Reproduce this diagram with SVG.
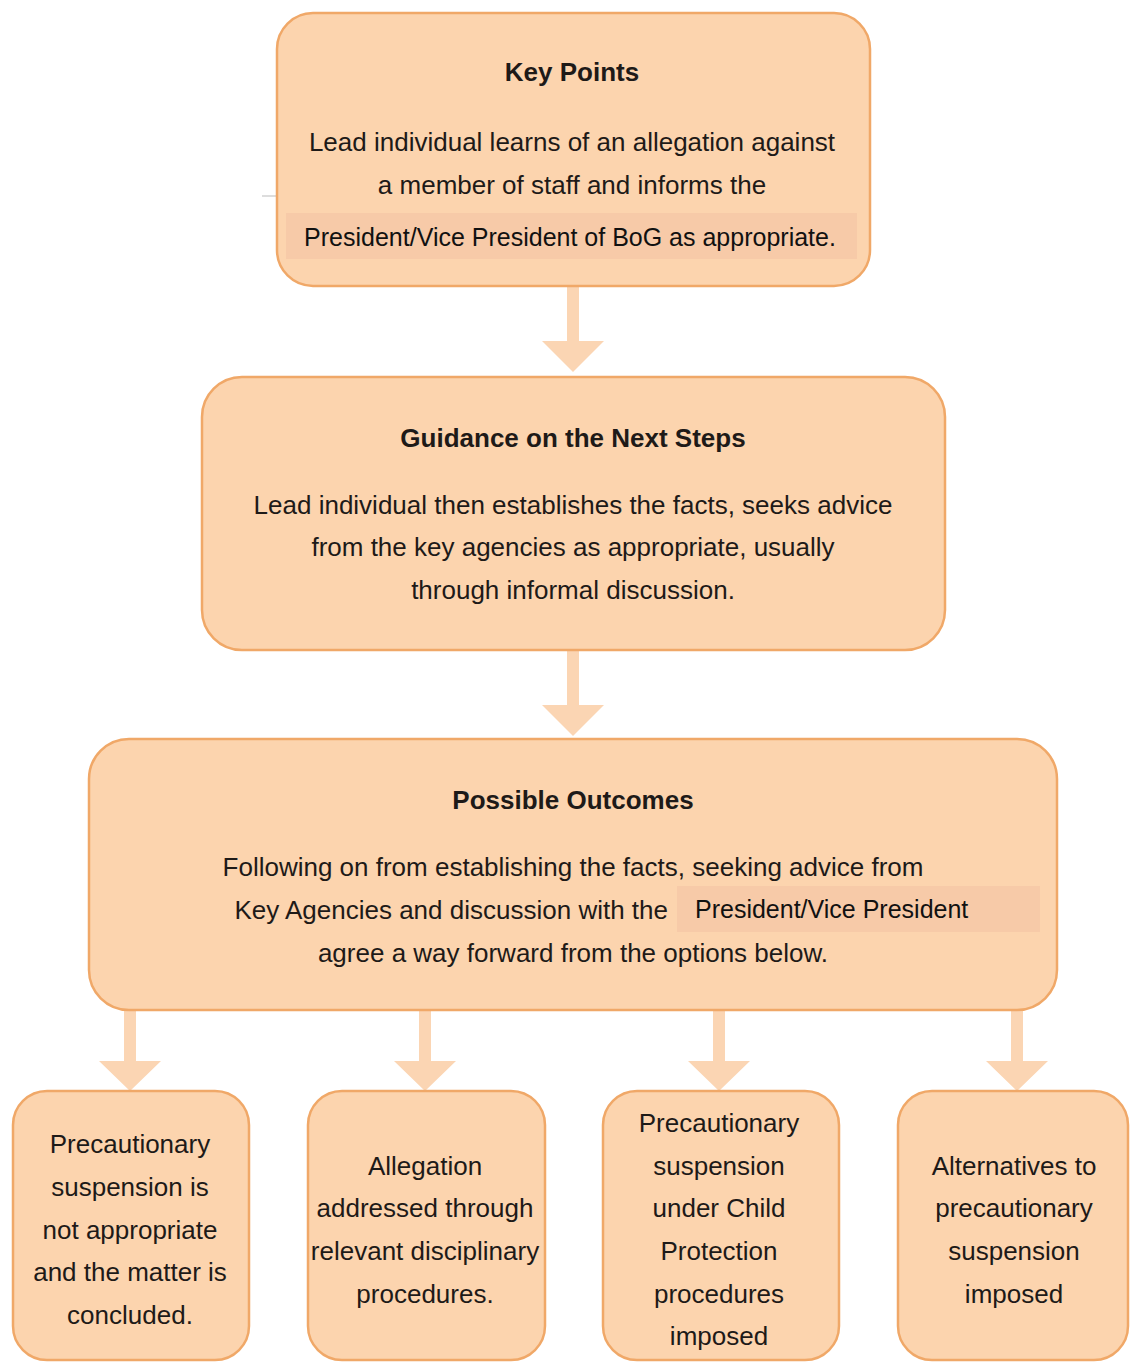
<svg xmlns="http://www.w3.org/2000/svg" width="1130" height="1362" viewBox="0 0 1130 1362">
<style>
.box{fill:#fcd4ae;stroke:#f0a868;stroke-width:2.5}
.hl{fill:#f7caa8}
.t{font-family:"Liberation Sans",Arial,sans-serif;font-size:26px;fill:#1e1a18;text-anchor:middle}
.b{font-weight:bold}
.p{font-family:"Liberation Sans",Arial,sans-serif;font-size:25px;fill:#111}
.arr{fill:#fbd5b3}
</style>
<rect width="1130" height="1362" fill="#ffffff"/>
<g id="connectors">
<path class="arr" d="M567 287h12v54h25l-31 31l-31-31h25z"/>
<path class="arr" d="M567 651h12v54h25l-31 31l-31-31h25z"/>
<path class="arr" d="M124 1011h12v50h25l-31 30l-31-30h25z"/>
<path class="arr" d="M419 1011h12v50h25l-31 30l-31-30h25z"/>
<path class="arr" d="M713 1011h12v50h25l-31 30l-31-30h25z"/>
<path class="arr" d="M1011 1011h12v50h25l-31 30l-31-30h25z"/>
</g>
<line x1="262" y1="196" x2="277" y2="196" stroke="#bbbbbb" stroke-width="1"/>
<g id="key-points">
<rect class="box" x="277" y="13" width="593" height="273" rx="36"/>
<rect class="hl" x="286" y="213" width="571" height="46"/>
<text class="t b" x="572" y="81">Key Points</text>
<text class="t" x="572" y="151">Lead individual learns of an allegation against</text>
<text class="t" x="572" y="194">a member of staff and informs the</text>
<text class="p" x="570" y="246" text-anchor="middle">President/Vice President of BoG as appropriate.</text>
</g>
<g id="guidance">
<rect class="box" x="202" y="377" width="743" height="273" rx="40"/>
<text class="t b" x="573" y="447">Guidance on the Next Steps</text>
<text class="t" x="573" y="514">Lead individual then establishes the facts, seeks advice</text>
<text class="t" x="573" y="556">from the key agencies as appropriate, usually</text>
<text class="t" x="573" y="599">through informal discussion.</text>
</g>
<g id="outcomes">
<rect class="box" x="89" y="739" width="968" height="271" rx="40"/>
<rect class="hl" x="677" y="886" width="363" height="46"/>
<text class="t b" x="573" y="809">Possible Outcomes</text>
<text class="t" x="573" y="876">Following on from establishing the facts, seeking advice from</text>
<text class="t" x="668" y="919" style="text-anchor:end">Key Agencies and discussion with the</text>
<text class="p" x="695" y="918">President/Vice President</text>
<text class="t" x="573" y="962">agree a way forward from the options below.</text>
</g>
<g id="outcome-1">
<rect class="box" x="13" y="1091" width="236" height="269" rx="34"/>
<text class="t" x="130" y="1153">Precautionary</text>
<text class="t" x="130" y="1196">suspension is</text>
<text class="t" x="130" y="1239">not appropriate</text>
<text class="t" x="130" y="1281">and the matter is</text>
<text class="t" x="130" y="1324">concluded.</text>
</g>
<g id="outcome-2">
<rect class="box" x="308" y="1091" width="237" height="269" rx="34"/>
<text class="t" x="425" y="1175">Allegation</text>
<text class="t" x="425" y="1217">addressed through</text>
<text class="t" x="425" y="1260">relevant disciplinary</text>
<text class="t" x="425" y="1303">procedures.</text>
</g>
<g id="outcome-3">
<rect class="box" x="603" y="1091" width="236" height="269" rx="34"/>
<text class="t" x="719" y="1132">Precautionary</text>
<text class="t" x="719" y="1175">suspension</text>
<text class="t" x="719" y="1217">under Child</text>
<text class="t" x="719" y="1260">Protection</text>
<text class="t" x="719" y="1303">procedures</text>
<text class="t" x="719" y="1345">imposed</text>
</g>
<g id="outcome-4">
<rect class="box" x="898" y="1091" width="230" height="269" rx="34"/>
<text class="t" x="1014" y="1175">Alternatives to</text>
<text class="t" x="1014" y="1217">precautionary</text>
<text class="t" x="1014" y="1260">suspension</text>
<text class="t" x="1014" y="1303">imposed</text>
</g>
</svg>
